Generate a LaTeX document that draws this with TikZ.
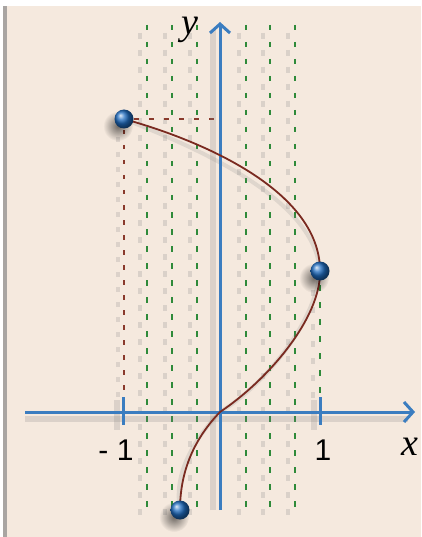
\documentclass[tikz,border=0pt]{standalone}
\usepackage{fontspec}
\setmainfont{Liberation Serif}
\newfontfamily\numfont{Liberation Sans}
\usetikzlibrary{arrows.meta,fadings}
\tikzfading[name=softdot, inner color=transparent!0, outer color=transparent!100]
\definecolor{bgbeige}{HTML}{F5E9DE}
\definecolor{edgegray}{HTML}{A9A5A2}
\definecolor{gridgreen}{HTML}{2F8A3A}
\definecolor{shadowgray}{HTML}{D2C9C2}
\definecolor{darkred}{HTML}{8A3A2C}
\definecolor{axisblue}{HTML}{3B7DC0}
\definecolor{ballblue}{HTML}{1F6CC0}
\definecolor{curvered}{HTML}{7A2A20}
\begin{document}
\begin{tikzpicture}[x=1pt,y=-1pt,
  greendash/.style={draw=gridgreen, line width=2.8pt, dash pattern=on 5.5pt off 11.5pt},
  greenshadow/.style={draw=shadowgray, line width=4.5pt, dash pattern=on 6pt off 11pt, opacity=0.75},
  reddash/.style={draw=darkred, line width=1.8pt, dash pattern=on 4.5pt off 10.5pt},
  redshadow/.style={draw=shadowgray, line width=3.5pt, dash pattern=on 5pt off 10pt, opacity=0.7},
  axisline/.style={draw=axisblue, line width=3pt},
  axisshadow/.style={draw=gray, line width=6pt, opacity=0.22},
  curveline/.style={draw=curvered, line width=1.8pt},
  curveshadow/.style={draw=gray, line width=4pt, opacity=0.18},
  ballshadow/.style={fill=black, opacity=0.55, path fading=softdot},
  numlabel/.style={font=\numfont\fontsize{30}{32}\selectfont, inner sep=0pt},
  varlabel/.style={font=\itshape\fontsize{38}{40}\selectfont, inner sep=0pt}]
\useasboundingbox (0,0) rectangle (421,537);
\fill[white] (0,0) rectangle (421,537);
\fill[edgegray] (3,6) rectangle (421,537);
\fill[bgbeige] (7,6) rectangle (421,537);
% grid shadows and green dashed lines
\foreach \gx in {147,172,197,246,270,295}{
  \draw[greenshadow] (\gx-7,33) -- (\gx-7,516);
  \draw[greendash] (\gx,25) -- (\gx,508);
}
\draw[greenshadow] (313,290) -- (313,406);
\draw[greendash] (320,285) -- (320,400);
% key points
\coordinate (P) at (124,119);
\coordinate (Q) at (320,271);
\coordinate (R) at (180,510);
\coordinate (O) at (220,412);
\coordinate (Py) at (218,119);
\coordinate (Px) at (124,395);
% dark red dashed guides
\draw[redshadow] (118,137) -- (118,400);
\draw[reddash] (124,130) -- (Px);
\draw[reddash] (134,119) -- (Py);
% axes shadows
\draw[axisshadow] (25,419) -- (408,419);
\draw[axisshadow] (213,510) -- (213,30);
\draw[axisshadow] (117,400) -- (117,430);
\draw[axisshadow] (314,400) -- (314,430);
% curve shadow
\draw[curveshadow, shift={(-6,7)}] (P) .. controls (200,140) and (320,190) .. (Q)
  .. controls (321,318) and (268,380) .. (O)
  .. controls (195,438) and (180,470) .. (R);
% axes
\coordinate (xs) at (25,412);
\coordinate (xe) at (415,412);
\coordinate (ys) at (220,510);
\coordinate (ye) at (220,22);
\draw[axisline, -{Straight Barb[length=9pt,width=20pt]}] (xs) -- (xe);
\draw[axisline, -{Straight Barb[length=9pt,width=20pt]}] (ys) -- (ye);
\coordinate (t1a) at (123,397); \coordinate (t1b) at (123,425);
\coordinate (t2a) at (320,397); \coordinate (t2b) at (320,425);
\draw[axisline] (t1a) -- (t1b);
\draw[axisline] (t2a) -- (t2b);
% curve
\draw[curveline] (P) .. controls (200,140) and (320,190) .. (Q)
  .. controls (321,318) and (268,380) .. (O)
  .. controls (195,438) and (180,470) .. (R);
% balls
\foreach \b in {P,Q,R}{
  \fill[ballshadow] ([shift={(-6,7)}]\b) circle (15);
}
\foreach \b in {P,Q,R}{
  \shade[ball color=ballblue] (\b) circle (9.5);
}
% labels
\node[numlabel] (m1) at (116,450) {- 1};
\node[numlabel] (p1) at (323,450) {1};
\node[varlabel] (xl) at (410,447) {x};
\node[varlabel] (yl) at (190,30) {y};
\end{tikzpicture}
\end{document}
